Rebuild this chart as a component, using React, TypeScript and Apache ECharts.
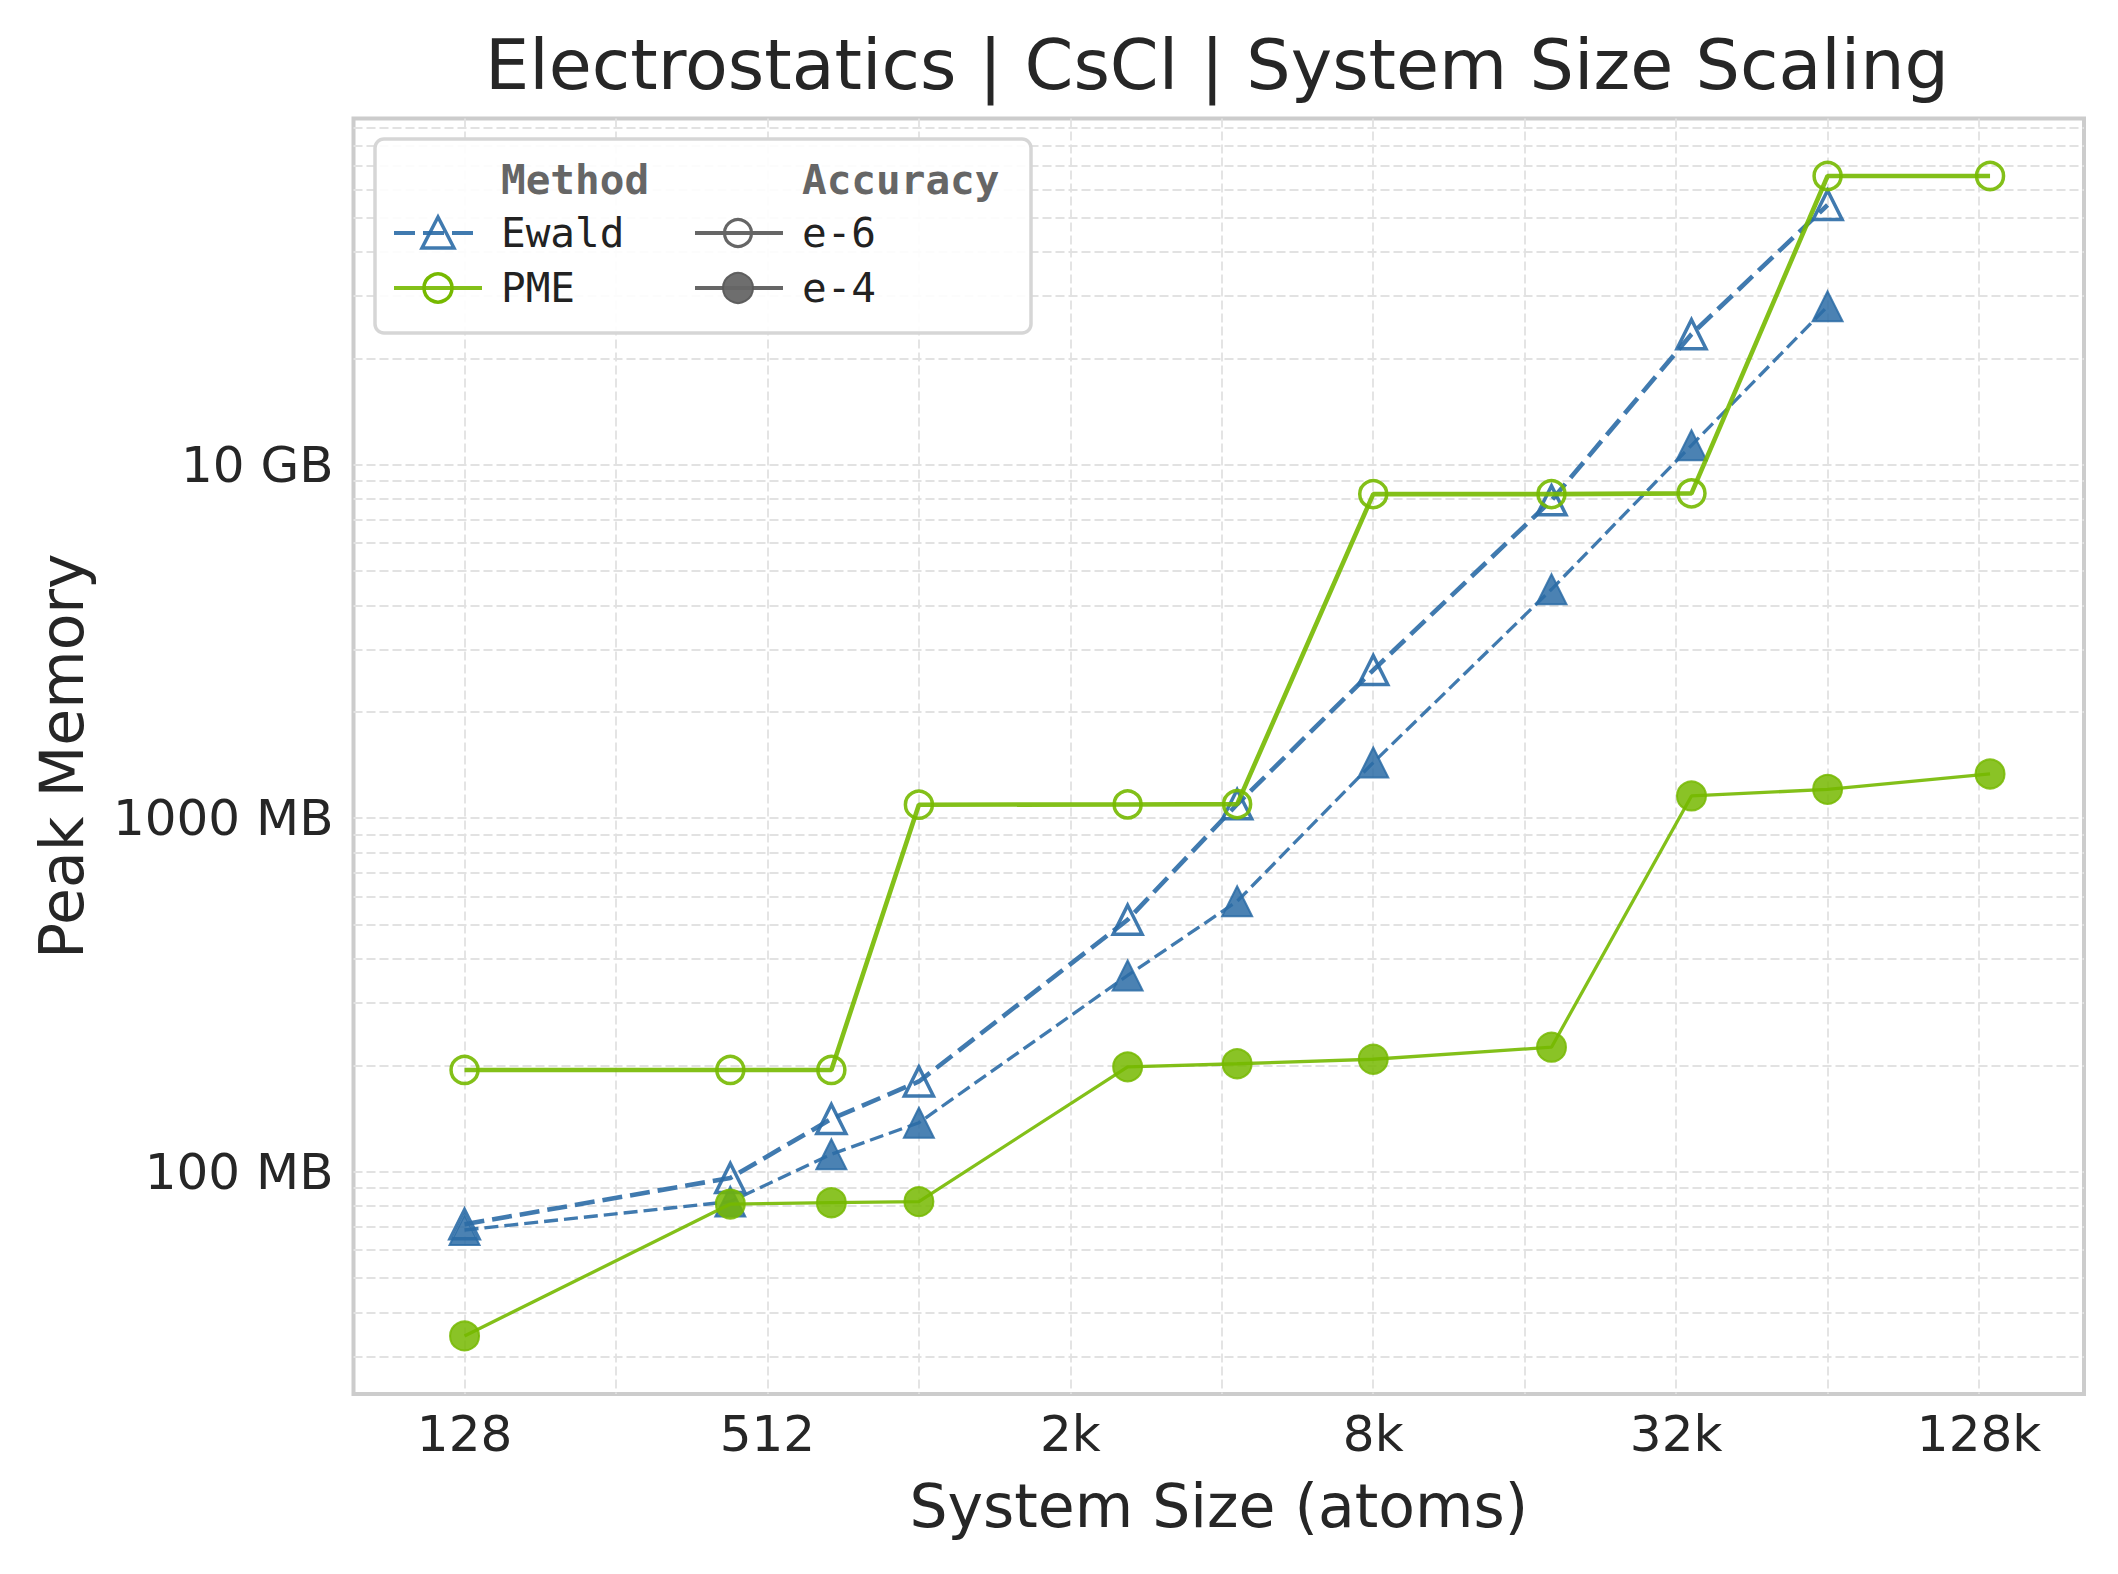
import { useEffect, useRef } from "react";
import * as echarts from "echarts";

// system sizes in atoms (CsCl, 2 * n^3)
const sizes = [128, 432, 686, 1024, 2662, 4394, 8192, 18522, 35152, 65536, 137842];

// peak memory in MB
const ewaldE6 = [71, 96, 141, 180, 516, 1095, 2625, 7930, 23400, 54300];
const ewaldE4 = [68.4, 82.3, 112, 137.6, 359, 582, 1437, 4443, 11350, 28060];
const pmeE6 = [194, 194, 194, 1092, 1094, 1096, 8260, 8260, 8300, 65600, 65600];
const pmeE4 = [34.3, 81.0, 81.7, 82.3, 198, 202, 208, 225, 1156, 1207, 1334];

const xTickValues = [128, 512, 2048, 8192, 32768, 131072];
const xTickLabels = ["128", "512", "2k", "8k", "32k", "128k"];
const xGridValues = [128, 256, 512, 1024, 2048, 4096, 8192, 16384, 32768, 65536, 131072];
const yTickValues = [100, 1000, 10000];
const yTickLabels = ["100 MB", "1000 MB", "10 GB"];

const EWALD = "#2b6ca6";
const PME = "#76b900";
const GREY = "#666666";
const FONT = "DejaVu Sans";
const MONO = "DejaVu Sans Mono";

// minor grid: 2..9 x each decade
const yGridValues: number[] = [];
for (let d = 10; d <= 10000; d *= 10) {
  for (let k = 1; k <= 9; k++) yGridValues.push(k * d);
}

function pick(values: number[], labels: string[], v: number) {
  const i = values.findIndex((t) => Math.abs(t - v) / t < 1e-6);
  return i >= 0 ? labels[i] : "";
}

function pairs(vals: number[]) {
  return vals.map((v, i) => [sizes[i], v]);
}

export default function App() {
  const chartRef = useRef<HTMLDivElement>(null);

  useEffect(() => {
    if (!chartRef.current) return;
    const chart = echarts.init(chartRef.current, null, { renderer: "svg" });

    const gridLine = {
      show: true,
      lineStyle: { color: "#e2e2e2", width: 1.8, type: [9, 4] },
    };

    const option = {
      animation: false,
      backgroundColor: "#ffffff",
      title: {
        text: "Electrostatics | CsCl | System Size Scaling",
        left: 1217,
        top: 30,
        textAlign: "center",
        padding: 0,
        textStyle: { fontFamily: FONT, fontSize: 70, fontWeight: "normal", color: "#262626" },
      },
      grid: {
        left: 353.5,
        right: 34,
        top: 118.5,
        bottom: 180,
        show: true,
        borderColor: "#cccccc",
        borderWidth: 4,
        backgroundColor: "#ffffff",
        outerBoundsMode: "none",
      },
      xAxis: {
        type: "log",
        logBase: 2,
        min: 77,
        max: 211900,
        name: "System Size (atoms)",
        nameLocation: "middle",
        nameGap: 82,
        nameTextStyle: { fontFamily: FONT, fontSize: 60, color: "#262626" },
        axisLine: { show: false },
        axisTick: { show: false, customValues: xGridValues },
        axisLabel: {
          customValues: xTickValues,
          formatter: (v: number) => pick(xTickValues, xTickLabels, v),
          margin: 15,
          fontFamily: FONT,
          fontSize: 50,
          color: "#262626",
        },
        splitLine: gridLine,
        minorSplitLine: { show: false },
      },
      yAxis: {
        type: "log",
        logBase: 10,
        min: 23.5,
        max: 95400,
        name: "Peak Memory",
        nameLocation: "middle",
        nameGap: 262,
        nameTextStyle: { fontFamily: FONT, fontSize: 60, color: "#262626" },
        axisLine: { show: false },
        axisTick: { show: false, customValues: yGridValues },
        axisLabel: {
          customValues: yTickValues,
          formatter: (v: number) => pick(yTickValues, yTickLabels, v),
          margin: 20,
          fontFamily: FONT,
          fontSize: 50,
          color: "#262626",
        },
        splitLine: gridLine,
        minorSplitLine: { show: false },
      },
      series: [
        {
          name: "Ewald e-6",
          type: "line",
          data: pairs(ewaldE6),
          symbol: "triangle",
          symbolSize: 29,
          lineStyle: { color: EWALD, width: 4.6, type: [20, 8], opacity: 0.9 },
          itemStyle: { color: "rgba(0,0,0,0)", borderColor: EWALD, borderWidth: 3.5, opacity: 0.9 },
          z: 2,
        },
        {
          name: "Ewald e-4",
          type: "line",
          data: pairs(ewaldE4),
          symbol: "triangle",
          symbolSize: 30,
          lineStyle: { color: EWALD, width: 3.3, type: [14, 6], opacity: 0.9 },
          itemStyle: { color: EWALD, borderColor: EWALD, borderWidth: 2, opacity: 0.85 },
          z: 2,
        },
        {
          name: "PME e-6",
          type: "line",
          data: pairs(pmeE6),
          symbol: "circle",
          symbolSize: 27,
          lineStyle: { color: PME, width: 4.6, opacity: 0.9 },
          itemStyle: { color: "rgba(0,0,0,0)", borderColor: PME, borderWidth: 3.5, opacity: 0.9 },
          z: 3,
        },
        {
          name: "PME e-4",
          type: "line",
          data: pairs(pmeE4),
          symbol: "circle",
          symbolSize: 29,
          lineStyle: { color: PME, width: 3.3, opacity: 0.9 },
          itemStyle: { color: PME, borderColor: PME, borderWidth: 2, opacity: 0.85 },
          z: 3,
        },
      ],
      graphic: [
        {
          type: "rect",
          z: 10,
          shape: { x: 375, y: 139, width: 656, height: 194, r: 9 },
          style: { fill: "rgba(255,255,255,0.9)", stroke: "#d6d6d6", lineWidth: 3.5 },
        },
        {
          type: "text", z: 11, x: 501, y: 180,
          style: { text: "Method", fontFamily: MONO, fontSize: 41, fontWeight: "bold", fill: GREY, verticalAlign: "middle" },
        },
        {
          type: "text", z: 11, x: 802, y: 180,
          style: { text: "Accuracy", fontFamily: MONO, fontSize: 41, fontWeight: "bold", fill: GREY, verticalAlign: "middle" },
        },
        {
          type: "line", z: 11,
          shape: { x1: 394, y1: 233, x2: 478, y2: 233 },
          style: { stroke: EWALD, lineWidth: 4.2, lineDash: [21, 8], opacity: 0.9 },
        },
        {
          type: "polygon", z: 12,
          shape: { points: [[438, 217], [422, 248], [454, 248]] },
          style: { fill: "none", stroke: EWALD, lineWidth: 3.5, opacity: 0.9 },
        },
        {
          type: "line", z: 11,
          shape: { x1: 394, y1: 288, x2: 482, y2: 288 },
          style: { stroke: PME, lineWidth: 4.2, opacity: 0.9 },
        },
        {
          type: "circle", z: 12,
          shape: { cx: 438, cy: 288, r: 14 },
          style: { fill: "none", stroke: PME, lineWidth: 3.5 },
        },
        {
          type: "line", z: 11,
          shape: { x1: 695, y1: 233, x2: 783, y2: 233 },
          style: { stroke: GREY, lineWidth: 4.2 },
        },
        {
          type: "circle", z: 12,
          shape: { cx: 738, cy: 233, r: 13.5 },
          style: { fill: "none", stroke: GREY, lineWidth: 3.2 },
        },
        {
          type: "line", z: 11,
          shape: { x1: 695, y1: 288, x2: 783, y2: 288 },
          style: { stroke: GREY, lineWidth: 4.2 },
        },
        {
          type: "circle", z: 12,
          shape: { cx: 738, cy: 288, r: 15 },
          style: { fill: GREY, stroke: "#5a5a5a", lineWidth: 2, opacity: 0.95 },
        },
        {
          type: "text", z: 11, x: 501, y: 233,
          style: { text: "Ewald", fontFamily: MONO, fontSize: 41, fill: "#222222", verticalAlign: "middle" },
        },
        {
          type: "text", z: 11, x: 501, y: 288,
          style: { text: "PME", fontFamily: MONO, fontSize: 41, fill: "#222222", verticalAlign: "middle" },
        },
        {
          type: "text", z: 11, x: 802, y: 233,
          style: { text: "e-6", fontFamily: MONO, fontSize: 41, fill: "#222222", verticalAlign: "middle" },
        },
        {
          type: "text", z: 11, x: 802, y: 288,
          style: { text: "e-4", fontFamily: MONO, fontSize: 41, fill: "#222222", verticalAlign: "middle" },
        },
      ],
    };

    chart.setOption(option);

    return () => {
      chart.dispose();
    };
  }, []);

  return (
    <div
      ref={chartRef}
      style={{ position: "absolute", left: 0, top: 0, width: "2118px", height: "1574px" }}
    ></div>
  );
}
